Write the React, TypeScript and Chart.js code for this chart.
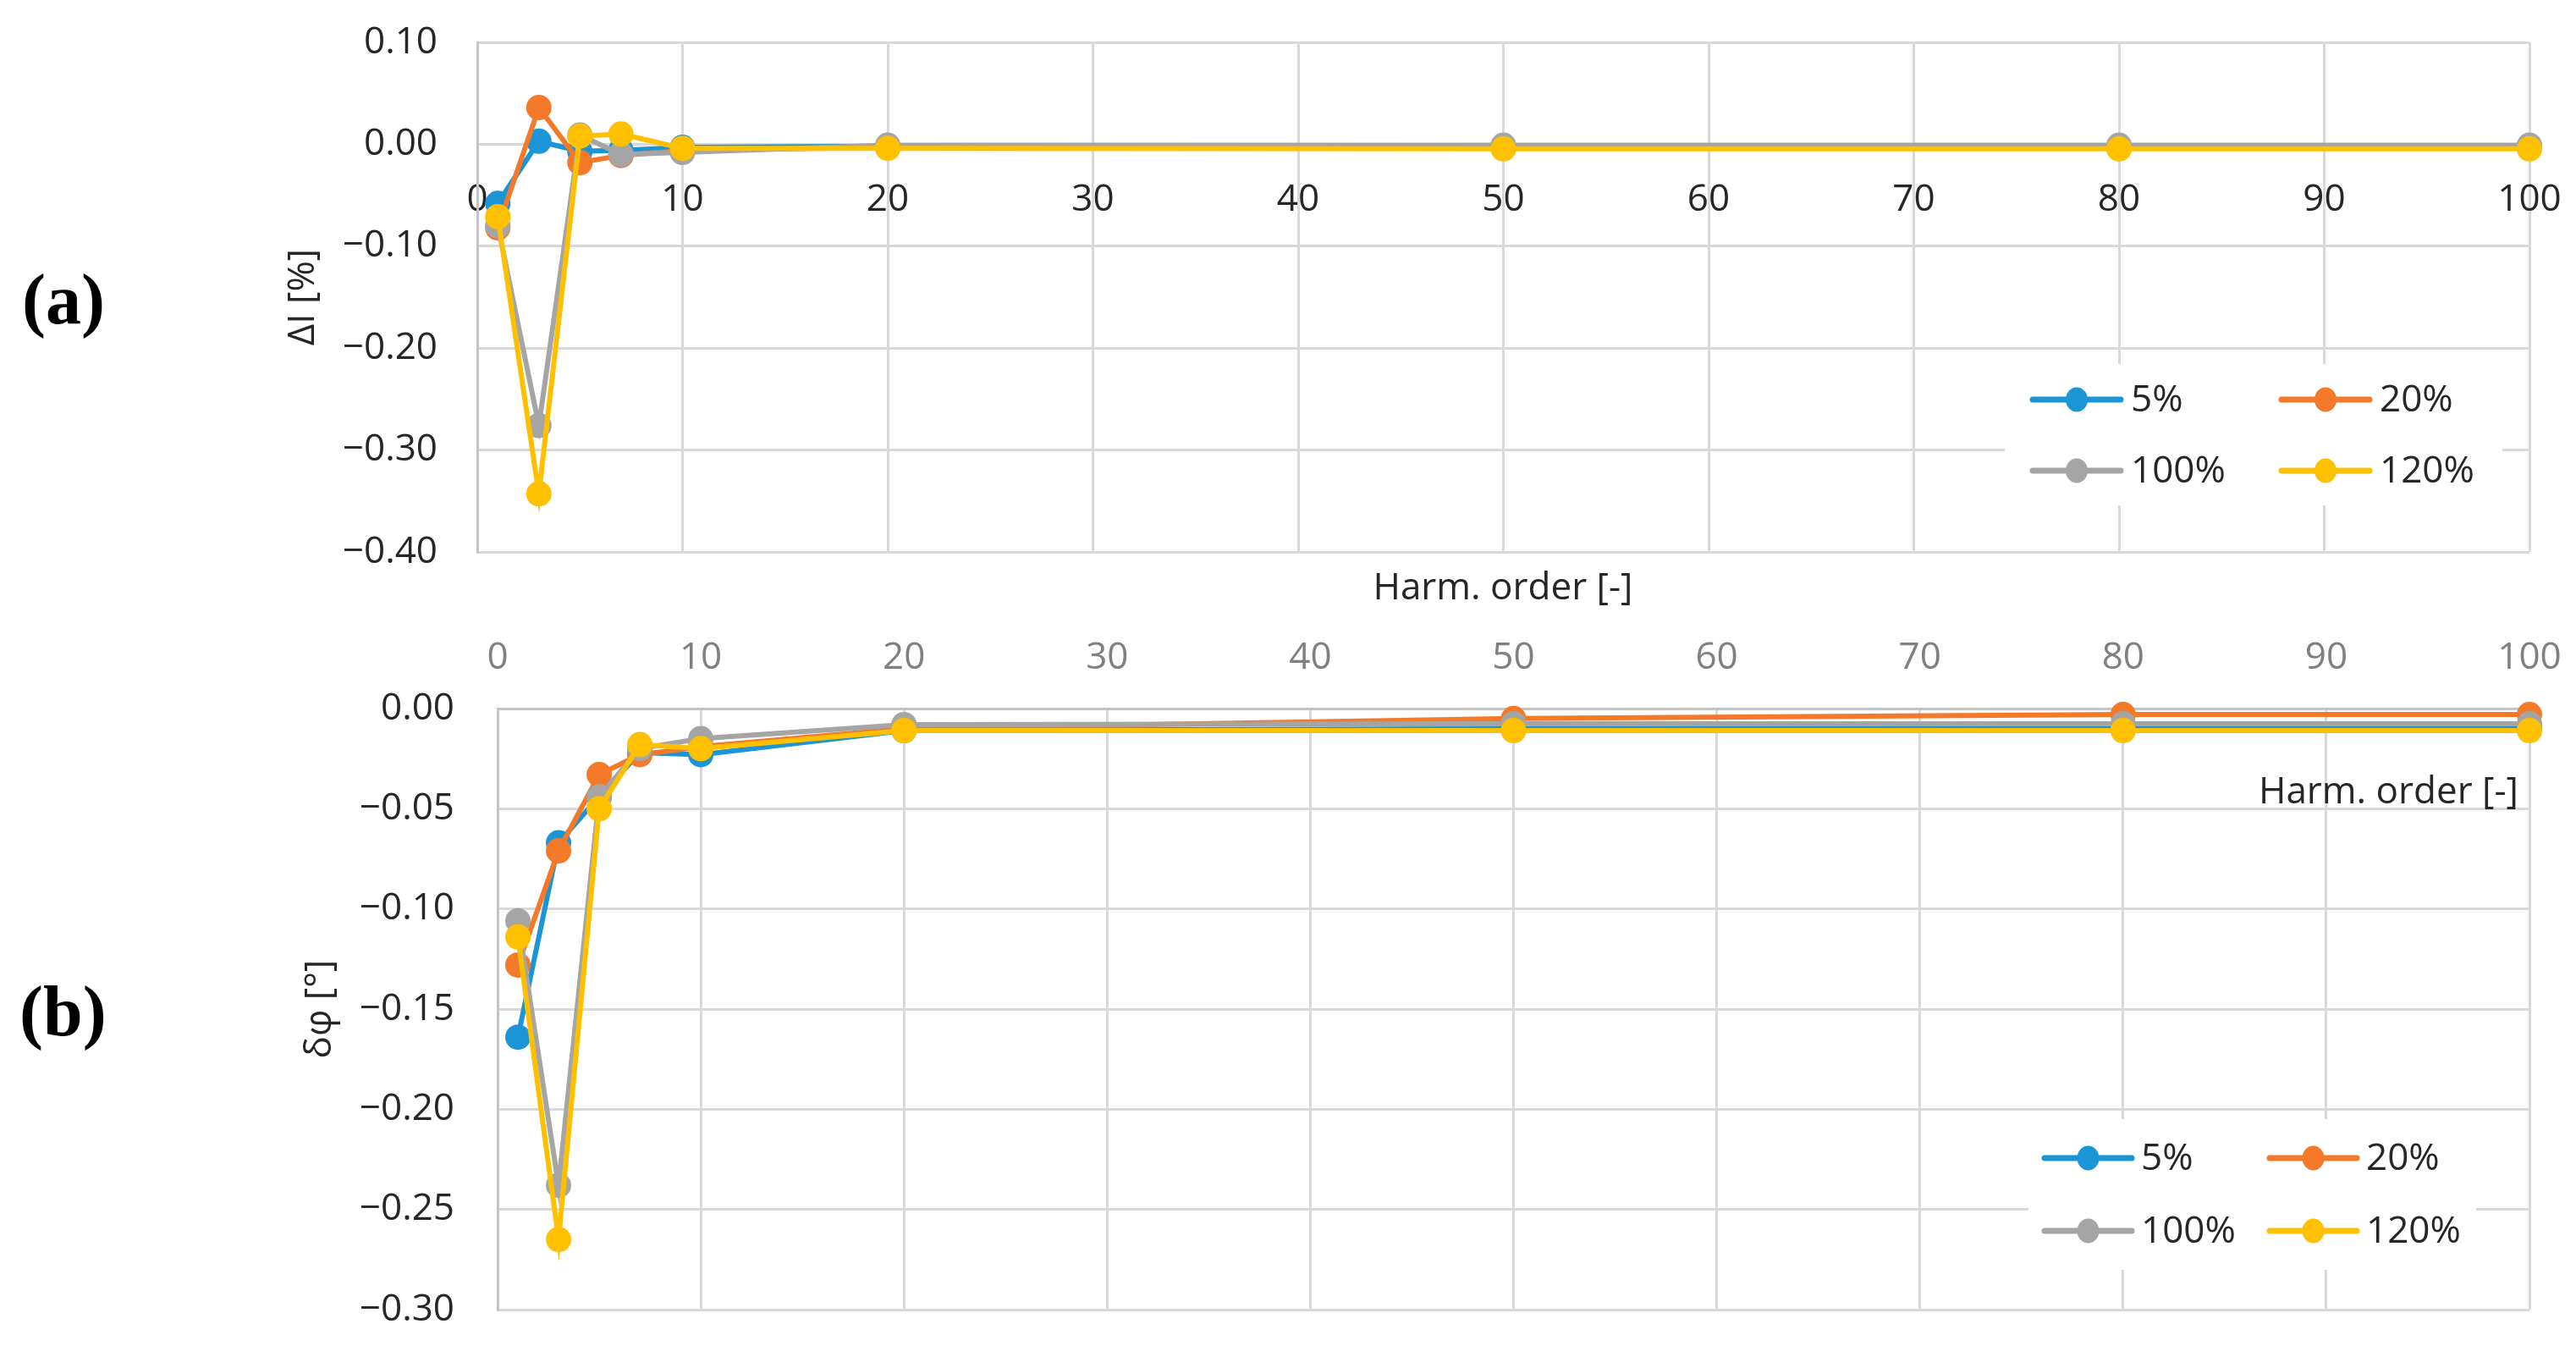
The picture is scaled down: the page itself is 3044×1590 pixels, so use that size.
import React, { useEffect, useRef } from "react";
import { Chart, registerables } from "chart.js";

Chart.register(...registerables);

// ---------- data ----------
const harmOrders = [1, 3, 5, 7, 10, 20, 50, 80, 100];
const seriesLabels = ["5%", "20%", "100%", "120%"];
const seriesColors = ["#1C95D7", "#F47A2A", "#A5A5A5", "#FFC000"];

// (a) ΔI [%]
const dI_5 = [-0.058, 0.003, -0.007, -0.006, -0.003, -0.002, -0.002, -0.002, -0.002];
const dI_20 = [-0.082, 0.036, -0.018, -0.011, -0.006, -0.003, -0.003, -0.003, -0.003];
const dI_100 = [-0.080, -0.276, 0.009, -0.010, -0.008, -0.001, -0.001, -0.001, -0.001];
const dI_120 = [-0.071, -0.343, 0.008, 0.010, -0.004, -0.004, -0.0045, -0.0045, -0.0045];

// (b) δφ [°]
const dPhi_5 = [-0.164, -0.067, -0.044, -0.022, -0.023, -0.011, -0.010, -0.010, -0.010];
const dPhi_20 = [-0.128, -0.071, -0.033, -0.023, -0.019, -0.010, -0.005, -0.003, -0.003];
const dPhi_100 = [-0.106, -0.238, -0.044, -0.020, -0.015, -0.008, -0.0076, -0.0076, -0.0076];
const dPhi_120 = [-0.114, -0.265, -0.050, -0.018, -0.020, -0.011, -0.011, -0.011, -0.011];

const xTickStep = 10;
const yRangeA = [-0.4, 0.1];
const yStepA = 0.1;
const yRangeB = [-0.3, 0.0];
const yStepB = 0.05;

const FONT = "'Open Sans', 'Noto Sans', sans-serif";
const TEXT = "#262626";

const fmt = (v: number) => {
  if (Math.abs(v) < 1e-9) return "0.00";
  return (v < 0 ? "\u2212" : "") + Math.abs(v).toFixed(2);
};

const zeroPad = (s: any) => {
  s.paddingTop = 0;
  s.paddingBottom = 0;
  s.paddingLeft = 0;
  s.paddingRight = 0;
};

const insideLegend = {
  id: "insideLegend",
  afterDraw(chart: any, _args: any, opts: any) {
    const { ctx } = chart;
    const ca = chart.chartArea;
    const bx = ca.right - opts.boxRight;
    const by = ca.bottom - opts.boxBottom;
    ctx.save();
    ctx.fillStyle = "#ffffff";
    ctx.fillRect(bx, by, opts.boxW, opts.boxH);
    ctx.font = `44px ${FONT}`;
    ctx.textBaseline = "middle";
    ctx.textAlign = "left";
    chart.data.datasets.forEach((ds: any, i: number) => {
      const r = Math.floor(i / 2);
      const c = i % 2;
      const x0 = bx + opts.cols[c];
      const y = by + opts.rows[r];
      ctx.strokeStyle = ds.borderColor;
      ctx.lineWidth = 7;
      ctx.lineCap = "round";
      ctx.beginPath();
      ctx.moveTo(x0, y);
      ctx.lineTo(x0 + opts.lineLen, y);
      ctx.stroke();
      ctx.fillStyle = ds.borderColor;
      ctx.beginPath();
      ctx.ellipse(x0 + opts.lineLen / 2, y, 13, 14.5, 0, 0, Math.PI * 2);
      ctx.fill();
      ctx.fillStyle = TEXT;
      ctx.fillText(ds.label, x0 + opts.lineLen + opts.gap, y + 1);
    });
    ctx.restore();
  },
};

function makeDatasets(values: number[][]) {
  return seriesLabels.map((label, i) => ({
    label,
    data: harmOrders.map((x, j) => ({ x, y: values[i][j] })),
    borderColor: seriesColors[i],
    backgroundColor: seriesColors[i],
    borderWidth: 6,
    pointRadius: 15,
    pointHoverRadius: 15,
    pointBorderWidth: 0,
    tension: 0,
    order: 3 - i,
    clip: false as any,
  }));
}

function ChartCanvas({ config, width, height, top }: any) {
  const ref = useRef<HTMLCanvasElement | null>(null);
  useEffect(() => {
    if (!ref.current) return;
    const chart = new Chart(ref.current, config());
    return () => chart.destroy();
  }, []);
  return (
    <canvas
      ref={ref}
      width={width}
      height={height}
      style={{ position: "absolute", left: 0, top, width, height }}
    />
  );
}

const configA = () => ({
  type: "line",
  data: { datasets: makeDatasets([dI_5, dI_20, dI_100, dI_120]) },
  options: {
    responsive: false,
    animation: false,
    devicePixelRatio: 1,
    layout: { padding: { left: 332, right: 55, top: 50, bottom: 88 } },
    plugins: {
      legend: { display: false },
      tooltip: { enabled: false },
      insideLegend: {
        boxRight: 620, boxBottom: 222, boxW: 588, boxH: 167,
        cols: [33, 327], rows: [42, 126], lineLen: 104, gap: 12,
      },
    },
    scales: {
      x: {
        type: "linear",
        min: 0,
        max: 100,
        position: { y: 0 },
        afterFit: zeroPad,
        ticks: {
          stepSize: xTickStep,
          color: TEXT,
          font: { family: FONT, size: 44 },
          padding: 40,
          maxRotation: 0,
          autoSkip: false,
        },
        grid: { color: "#d9d9d9", lineWidth: 3, drawTicks: false },
        border: { display: true, color: "#d9d9d9", width: 3 },
      },
      y: {
        type: "linear",
        min: yRangeA[0],
        max: yRangeA[1],
        position: "left",
        afterFit: (s: any) => { s.width = 232; zeroPad(s); },
        ticks: {
          stepSize: yStepA,
          callback: (v: any) => fmt(Number(v)),
          color: TEXT,
          font: { family: FONT, size: 44 },
          padding: 47,
        },
        grid: { color: "#d9d9d9", lineWidth: 3, drawTicks: false },
        border: { display: true, color: "#c4c4c4", width: 3 },
        title: {
          display: true,
          text: "\u0394I [%]",
          color: TEXT,
          font: { family: FONT, size: 44 },
          padding: 0,
        },
      },
    },
  },
  plugins: [insideLegend],
});

const configB = () => ({
  type: "line",
  data: { datasets: makeDatasets([dPhi_5, dPhi_20, dPhi_100, dPhi_120]) },
  options: {
    responsive: false,
    animation: false,
    devicePixelRatio: 1,
    layout: { padding: { left: 352, right: 55, top: 0, bottom: 43 } },
    plugins: {
      legend: { display: false },
      tooltip: { enabled: false },
      insideLegend: {
        boxRight: 592, boxBottom: 225, boxW: 529, boxH: 178,
        cols: [19, 285], rows: [46, 132], lineLen: 103, gap: 11,
      },
    },
    scales: {
      x: {
        type: "linear",
        min: 0,
        max: 100,
        position: "top",
        afterFit: (s: any) => { s.height = 97; zeroPad(s); },
        ticks: {
          stepSize: xTickStep,
          color: "#808080",
          font: { family: FONT, size: 44 },
          padding: 33,
          maxRotation: 0,
          autoSkip: false,
        },
        grid: { color: "#d9d9d9", lineWidth: 3, drawTicks: false },
        border: { display: true, color: "#c4c4c4", width: 3 },
      },
      y: {
        type: "linear",
        min: yRangeB[0],
        max: yRangeB[1],
        position: "left",
        afterFit: (s: any) => { s.width = 236; zeroPad(s); },
        ticks: {
          stepSize: yStepB,
          callback: (v: any) => fmt(Number(v)),
          color: TEXT,
          font: { family: FONT, size: 44 },
          padding: 51,
        },
        grid: { color: "#d9d9d9", lineWidth: 3, drawTicks: false },
        border: { display: true, color: "#c4c4c4", width: 3 },
        title: {
          display: true,
          text: "\u03B4\u03C6 [\u00B0]",
          color: TEXT,
          font: { family: FONT, size: 44 },
          padding: 0,
        },
      },
    },
  },
  plugins: [insideLegend],
});

export default function App() {
  const label: React.CSSProperties = {
    position: "absolute",
    fontFamily: "'Liberation Serif', 'Times New Roman', serif",
    fontWeight: "bold",
    fontSize: 84,
    lineHeight: 1,
    color: "#000",
    transform: "translateY(-50%)",
    whiteSpace: "nowrap",
  };
  const axisTitle: React.CSSProperties = {
    position: "absolute",
    fontFamily: FONT,
    fontSize: 44,
    lineHeight: 1,
    color: TEXT,
    whiteSpace: "nowrap",
  };
  return (
    <div
      style={{
        position: "fixed",
        left: 0,
        top: 0,
        width: 3044,
        height: 1590,
        background: "#fff",
        overflow: "hidden",
      }}
    >
      <ChartCanvas config={configA} width={3044} height={740} top={0} />
      <ChartCanvas config={configB} width={3044} height={850} top={740} />
      <div style={{ ...label, left: 26, top: 354 }}>(a)</div>
      <div style={{ ...label, left: 23, top: 1195 }}>(b)</div>
      <div style={{ ...axisTitle, left: 1776, top: 691, transform: "translate(-50%, -50%)" }}>
        Harm. order [-]
      </div>
      <div style={{ ...axisTitle, right: 68, top: 932, transform: "translateY(-50%)" }}>
        Harm. order [-]
      </div>
    </div>
  );
}
